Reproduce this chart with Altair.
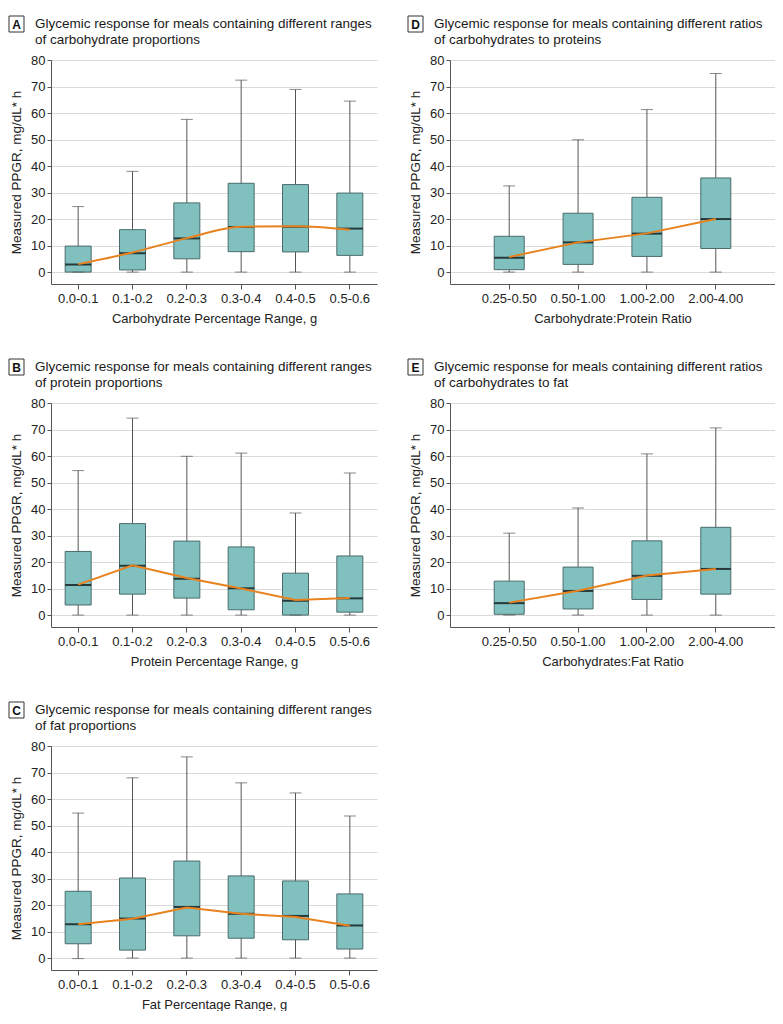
import altair as alt
import pandas as pd

FONT = "Liberation Sans, Arial, sans-serif"

# ---- Panel A: carbohydrate proportion ranges
a_cats = ["0.0-0.1", "0.1-0.2", "0.2-0.3", "0.3-0.4", "0.4-0.5", "0.5-0.6"]
a_low = [0, 0, 0, 0, 0, 0]
a_q1 = [0.0, 0.8, 5.0, 7.7, 7.6, 6.3]
a_med = [2.9, 7.1, 12.7, 17.0, 17.1, 16.4]
a_q3 = [9.8, 16.0, 26.1, 33.5, 33.0, 29.8]
a_high = [24.7, 38.0, 57.6, 72.4, 68.9, 64.5]
a_line = [3.0, 7.4, 12.8, 17.1, 17.3, 16.0]

# ---- Panel B: protein proportion ranges
b_cats = ["0.0-0.1", "0.1-0.2", "0.2-0.3", "0.3-0.4", "0.4-0.5", "0.5-0.6"]
b_low = [0, 0, 0, 0, 0, 0]
b_q1 = [3.8, 7.9, 6.4, 2.0, 0.0, 1.1]
b_med = [11.3, 18.6, 13.7, 10.1, 5.4, 6.3]
b_q3 = [24.0, 34.5, 27.9, 25.7, 15.8, 22.3]
b_high = [54.5, 74.3, 59.9, 61.1, 38.5, 53.6]
b_line = [11.5, 18.8, 14.0, 10.0, 5.7, 6.4]

# ---- Panel C: fat proportion ranges
c_cats = ["0.0-0.1", "0.1-0.2", "0.2-0.3", "0.3-0.4", "0.4-0.5", "0.5-0.6"]
c_low = [-0.2, 0, 0, 0, 0, 0]
c_q1 = [5.4, 3.0, 8.4, 7.5, 6.9, 3.4]
c_med = [12.8, 14.9, 19.3, 16.7, 15.9, 12.3]
c_q3 = [25.2, 30.2, 36.6, 31.0, 29.1, 24.2]
c_high = [54.7, 68.0, 75.9, 66.1, 62.3, 53.6]
c_line = [12.8, 14.8, 19.1, 16.7, 15.5, 12.2]

# ---- Panel D: carbohydrate:protein ratio
d_cats = ["0.25-0.50", "0.50-1.00", "1.00-2.00", "2.00-4.00"]
d_low = [0, 0, 0, 0]
d_q1 = [0.9, 2.9, 5.9, 8.9]
d_med = [5.4, 11.2, 14.5, 20.0]
d_q3 = [13.5, 22.2, 28.2, 35.5]
d_high = [32.5, 49.9, 61.3, 74.9]
d_line = [5.7, 11.2, 14.6, 20.0]

# ---- Panel E: carbohydrates:fat ratio
e_cats = ["0.25-0.50", "0.50-1.00", "1.00-2.00", "2.00-4.00"]
e_low = [0, 0, 0, 0]
e_q1 = [0.3, 2.3, 5.9, 7.9]
e_med = [4.5, 9.1, 14.8, 17.4]
e_q3 = [12.8, 18.1, 28.0, 33.1]
e_high = [30.9, 40.4, 60.8, 70.6]
e_line = [4.7, 9.2, 14.9, 17.4]

y_ticks = [0, 10, 20, 30, 40, 50, 60, 70, 80]
Y_TITLE = "Measured PPGR, mg/dL* h"

FILL = "#80c1c0"
BOX_STROKE = "#4a6b6b"
WHISKER = "#555555"
ORANGE = "#e8821e"
TEXT = "#1a1a1a"


def panel(letter, title_lines, cats, low, q1, med, q3, high, line, xtitle,
          box_w, outer_pad, width, interp="linear"):
    df = pd.DataFrame({"cat": cats, "low": low, "q1": q1, "med": med,
                       "q3": q3, "high": high, "line": line})
    yscale = alt.Scale(domain=[-4.5, 80], nice=False, zero=False)
    yaxis = alt.Axis(values=y_ticks, grid=True, title=Y_TITLE, tickSize=4,
                     labelPadding=2, titlePadding=7, titleFontSize=13.5)

    def Y(field):
        return alt.Y(f"{field}:Q", scale=yscale, axis=yaxis, title=Y_TITLE)

    base = alt.Chart(df).encode(
        x=alt.X("cat:N", sort=cats,
                scale=alt.Scale(type="band", paddingInner=0, paddingOuter=outer_pad),
                axis=alt.Axis(title=xtitle, labelAngle=0, tickSize=5,
                              labelPadding=3, titlePadding=7, grid=False))
    )
    whisk = base.mark_rule(color=WHISKER, strokeWidth=1).encode(y=Y("low"), y2="high:Q")
    cap_hi = base.mark_tick(color=WHISKER, size=12, thickness=1).encode(y=Y("high"))
    cap_lo = base.mark_tick(color=WHISKER, size=12, thickness=1).encode(y=Y("low"))
    box = base.mark_bar(width=box_w, fill=FILL, stroke=BOX_STROKE,
                        strokeWidth=1).encode(y=Y("q1"), y2="q3:Q")
    medt = base.mark_tick(color="#000000", size=box_w, thickness=2).encode(y=Y("med"))
    ln = base.mark_line(color=ORANGE, strokeWidth=2, interpolate=interp).encode(y=Y("line"))

    lab = alt.Chart(alt.Data(values=[{"t": letter, "l1": title_lines[0],
                                      "l2": title_lines[1]}]))
    lbox = lab.mark_rect(fill="white", stroke="#333333", strokeWidth=1).encode(
        x=alt.value(-42), x2=alt.value(-27), y=alt.value(-44), y2=alt.value(-28))
    ltxt = lab.mark_text(font=FONT, fontSize=12, fontWeight="bold", color="#111111",
                         align="center", baseline="middle").encode(
        x=alt.value(-34.5), y=alt.value(-35.5), text="t:N")
    t1 = lab.mark_text(font=FONT, fontSize=13.5, color=TEXT, align="left",
                       baseline="middle").encode(
        x=alt.value(-16), y=alt.value(-36), text="l1:N")
    t2 = lab.mark_text(font=FONT, fontSize=13.5, color=TEXT, align="left",
                       baseline="middle").encode(
        x=alt.value(-16), y=alt.value(-20), text="l2:N")

    return alt.layer(whisk, box, cap_hi, cap_lo, medt, ln, lbox, ltxt, t1, t2).properties(
        width=width, height=224,
    )


pA = panel("A", ["Glycemic response for meals containing different ranges",
                 "of carbohydrate proportions"],
           a_cats, a_low, a_q1, a_med, a_q3, a_high, a_line,
           "Carbohydrate Percentage Range, g", 26, 0, 326, "monotone")
pB = panel("B", ["Glycemic response for meals containing different ranges",
                 "of protein proportions"],
           b_cats, b_low, b_q1, b_med, b_q3, b_high, b_line,
           "Protein Percentage Range, g", 26, 0, 326)
pC = panel("C", ["Glycemic response for meals containing different ranges",
                 "of fat proportions"],
           c_cats, c_low, c_q1, c_med, c_q3, c_high, c_line,
           "Fat Percentage Range, g", 26, 0, 326)
pD = panel("D", ["Glycemic response for meals containing different ratios",
                 "of carbohydrates to proteins"],
           d_cats, d_low, d_q1, d_med, d_q3, d_high, d_line,
           "Carbohydrate:Protein Ratio", 30, 0.36, 325)
pE = panel("E", ["Glycemic response for meals containing different ratios",
                 "of carbohydrates to fat"],
           e_cats, e_low, e_q1, e_med, e_q3, e_high, e_line,
           "Carbohydrates:Fat Ratio", 30, 0.36, 325)

left = alt.vconcat(pA, pB, pC, spacing=33)
right = alt.vconcat(pD, pE, spacing=33)

chart = alt.hconcat(left, right, spacing=30).properties(
    padding={"left": 0, "top": 7, "right": 0, "bottom": 0}
).configure_view(stroke=None).configure_axis(
    labelFont=FONT, titleFont=FONT, labelFontSize=13, titleFontSize=13,
    labelColor="#222222", titleColor="#222222", titleFontWeight="normal",
    domainColor="#555555", tickColor="#555555", gridColor="#d9d9d9",
    gridWidth=1, domainWidth=1,
).configure_concat(spacing=30)

chart.save("out.html", embed_options={"renderer": "svg", "actions": False})
